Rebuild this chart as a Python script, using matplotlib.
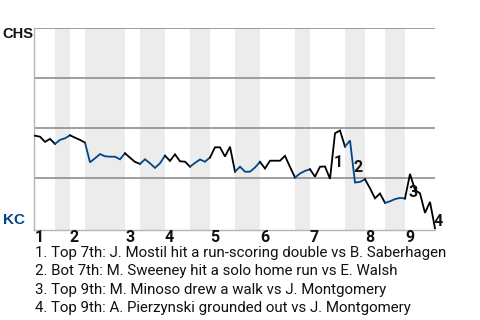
import matplotlib
matplotlib.use("Agg")
import matplotlib.pyplot as plt

# ---- data ----
# CHS win probability after each plate appearance (0 = KC wins, 1 = CHS wins)
chs_wp = [0.463, 0.458, 0.432, 0.447, 0.422, 0.442, 0.450, 0.465, 0.453, 0.442,
          0.428, 0.330, 0.350, 0.371, 0.360, 0.358, 0.358, 0.345, 0.375, 0.353,
          0.332, 0.322, 0.345, 0.325, 0.302, 0.325, 0.363, 0.337, 0.370, 0.335,
          0.333, 0.308, 0.327, 0.344, 0.333, 0.354, 0.405, 0.405, 0.359, 0.408,
          0.283, 0.308, 0.283, 0.283, 0.304, 0.332, 0.299, 0.338, 0.338, 0.338,
          0.362, 0.307, 0.254, 0.274, 0.287, 0.295, 0.258, 0.308, 0.309, 0.247,
          0.475, 0.489, 0.408, 0.439, 0.229, 0.232, 0.245, 0.200, 0.150, 0.174,
          0.127, 0.135, 0.146, 0.152, 0.149, 0.272, 0.192, 0.175, 0.077, 0.132,
          0.0]
# plate-appearance index at which each half inning starts (last = end of game)
half_inning_starts = [0, 4, 7, 10, 18, 21, 26, 31, 35, 40, 45, 52, 55, 62, 66, 70, 74, 80]
inning_labels = ["1", "2", "3", "4", "5", "6", "7", "8", "9"]
event_pa = [60, 64, 75, 80]
event_labels = ["1", "2", "3", "4"]
event_texts = [
    "1. Top 7th: J. Mostil hit a run-scoring double vs B. Saberhagen",
    "2. Bot 7th: M. Sweeney hit a solo home run vs E. Walsh",
    "3. Top 9th: M. Minoso drew a walk vs J. Montgomery",
    "4. Top 9th: A. Pierzynski grounded out vs J. Montgomery",
]
away_team = "CHS"
home_team = "KC"

# ---- style ----
BLUE = "#004687"
BAND = "#ececec"
W, H = 480, 320
fig = plt.figure(figsize=(W / 100, H / 100), dpi=100)
left, right, top, bottom = 34, 435, 28.3, 229.5
ax = fig.add_axes([left / W, 1 - bottom / H, (right - left) / W, (bottom - top) / H])

n = len(chs_wp) - 1
ax.set_xlim(-0.2, n)
ax.set_ylim(-0.006, 1.0)

# shaded bottom halves
for k in range(len(half_inning_starts) - 1):
    a, b = half_inning_starts[k], half_inning_starts[k + 1]
    if k % 2 == 1:
        ax.axvspan(a, b, color=BAND, lw=0, zorder=0)

# grid lines
for g in [0.25, 0.5, 0.75, 1.0]:
    ax.axhline(g, color="#858585", lw=1.1, zorder=1)

for s in ["top", "right"]:
    ax.spines[s].set_visible(False)
ax.spines["left"].set_color("#b5b5b5")
ax.spines["bottom"].set_color("#b5b5b5")
ax.spines["left"].set_linewidth(1)
ax.spines["bottom"].set_linewidth(1)
ax.set_xticks([])
ax.set_yticks([])

# line by half inning
for k in range(len(half_inning_starts) - 1):
    a, b = half_inning_starts[k], half_inning_starts[k + 1]
    xs = list(range(a, b + 1))
    ys = chs_wp[a:b + 1]
    ax.plot(xs, ys, color=("black" if k % 2 == 0 else BLUE), lw=1.3,
            solid_joinstyle="miter", zorder=3, clip_on=False)

# event labels
for pa, lab in zip(event_pa, event_labels):
    mid = (chs_wp[pa] + chs_wp[pa - 1]) / 2
    ax.annotate(lab, xy=(pa, mid), xytext=(-1, -6), textcoords="offset pixels",
                ha="left", va="center", fontsize=11.5, fontweight="bold",
                family="Roboto", color="#111111", zorder=4)

# inning numbers
for k, lab in enumerate(inning_labels):
    pa = half_inning_starts[2 * k]
    x = left + (pa + 0.2) / (n + 0.2) * (right - left)
    fig.text(x / W, 1 - 237 / H, lab, ha="left", va="center",
             fontsize=11.5, fontweight="bold", family="Roboto", color="#111111")

# team labels
fig.text(2.5 / W, 1 - 34 / H, away_team, ha="left", va="center", fontsize=10.5,
         fontweight="bold", family="Liberation Sans", color="#111111")
fig.text(3 / W, 1 - 220 / H, home_team, ha="left", va="center", fontsize=11,
         fontweight="bold", family="Liberation Sans", color=BLUE)

# event descriptions
for j, t in enumerate(event_texts):
    fig.text(35 / W, 1 - (253.3 + 18.2 * j) / H, t, ha="left", va="center",
             fontsize=10.85, family="Roboto", color="#111111")

fig.savefig("out.png", dpi=100)
